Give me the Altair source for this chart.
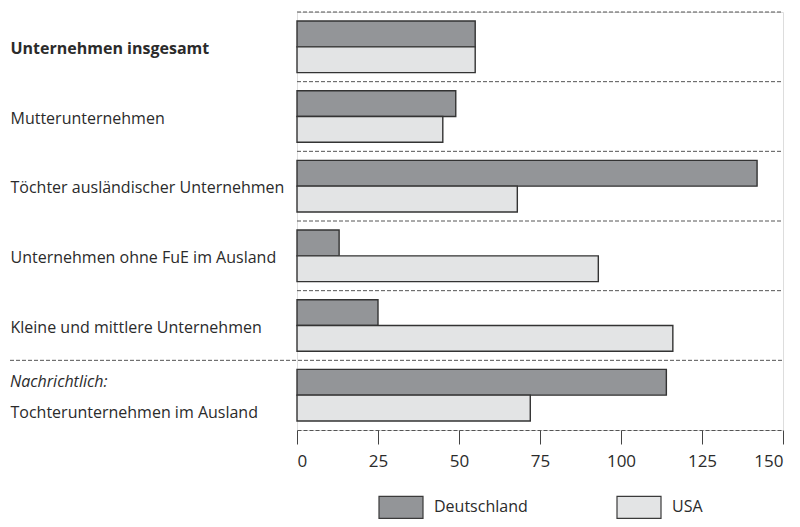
import altair as alt
import pandas as pd

categories = [
    "Unternehmen insgesamt",
    "Mutterunternehmen",
    "Töchter ausländischer Unternehmen",
    "Unternehmen ohne FuE im Ausland",
    "Kleine und mittlere Unternehmen",
    "Tochterunternehmen im Ausland",
]
series = ["Deutschland", "USA"]
deutschland = [55, 49, 142, 13, 25, 114]
usa = [55, 45, 68, 93, 116, 72]
x_ticks = [0, 25, 50, 75, 100, 125, 150]
note_label = "Nachrichtlich:"
note_category = "Tochterunternehmen im Ausland"
bold_category = "Unternehmen insgesamt"
full_rule_category = "Tochterunternehmen im Ausland"

rows = []
for c, d, u in zip(categories, deutschland, usa):
    rows.append({"cat": c, "series": "Deutschland", "value": d})
    rows.append({"cat": c, "series": "USA", "value": u})
df = pd.DataFrame(rows)
rules_df = pd.DataFrame({"cat": categories})
note_df = pd.DataFrame({"cat": [note_category], "label": [note_label]})

FONT = "Open Sans"
W, H = 486, 418
TEXT = "#2b2b2b"

y_scale = alt.Scale(domain=categories, paddingInner=0, paddingOuter=0)

y_axis = alt.Axis(
    domain=False,
    ticks=False,
    tickSize=0,
    labelAlign="left",
    labelBaseline="middle",
    labelPadding=287,
    labelFont=FONT,
    labelFontSize=16,
    labelColor=TEXT,
    labelLimit=400,
    labelFontWeight={
        "condition": {"test": f"datum.value === '{bold_category}'", "value": "bold"},
        "value": "normal",
    },
    labelOffset={
        "condition": {"test": f"datum.value === '{note_category}'", "value": 18},
        "value": 2,
    },
)

bars = alt.Chart(df).mark_bar(stroke="#333333", strokeWidth=1.4).encode(
    y=alt.Y("cat:N", scale=y_scale, title=None, axis=y_axis),
    yOffset=alt.YOffset(
        "series:N",
        sort=series,
        scale=alt.Scale(domain=series, paddingInner=0, paddingOuter=0.35),
    ),
    x=alt.X(
        "value:Q",
        scale=alt.Scale(domain=[0, 150], nice=False),
        title=None,
        axis=alt.Axis(
            values=x_ticks,
            grid=False,
            domainDash=[4, 2],
            domainColor="#555555",
            domainWidth=1,
            tickColor="#444444",
            tickSize=14,
            tickWidth=1,
            labelPadding=9,
            labelFont=FONT,
            labelFontSize=17,
            labelColor=TEXT,
        ),
    ),
    color=alt.Color(
        "series:N",
        scale=alt.Scale(domain=series, range=["#939598", "#e3e4e5"]),
        legend=alt.Legend(
            title=None,
            orient="none",
            legendX=81,
            legendY=472,
            direction="horizontal",
            symbolType="M-1,-0.5L1,-0.5L1,0.5L-1,0.5Z",
            symbolSize=1936,
            symbolStrokeColor="#3a3a3a",
            symbolStrokeWidth=1.2,
            symbolOpacity=1,
            labelFont=FONT,
            labelFontSize=16,
            labelColor=TEXT,
            labelOffset=10,
            columnPadding=86,
            padding=0,
        ),
    ),
)

rules = alt.Chart(rules_df).transform_filter(
    f"datum.cat !== '{full_rule_category}'"
).mark_rule(color="#555555", strokeDash=[4, 2], strokeWidth=1).encode(
    y=alt.Y("cat:N", bandPosition=0, scale=y_scale, title=None, axis=y_axis),
    x=alt.value(0),
    x2=alt.value(W),
)

full_rule = alt.Chart(rules_df).transform_filter(
    f"datum.cat === '{full_rule_category}'"
).mark_rule(color="#555555", strokeDash=[4, 2], strokeWidth=1).encode(
    y=alt.Y("cat:N", bandPosition=0, scale=y_scale, title=None, axis=y_axis),
    x=alt.value(-287),
    x2=alt.value(W),
)

note = alt.Chart(note_df).mark_text(
    align="left", baseline="middle", font=FONT, fontSize=16,
    fontStyle="italic", color=TEXT, dy=-13,
).encode(
    y=alt.Y("cat:N", scale=y_scale, title=None, axis=y_axis),
    x=alt.value(-287),
    text="label:N",
)

chart = alt.layer(bars, rules, full_rule, note).properties(
    width=W,
    height=H,
    autosize=alt.AutoSizeParams(type="none"),
    padding={"left": 289, "top": 4, "right": 9, "bottom": 89},
).configure_view(stroke=None).configure(background="white")

chart.save("out.html", embed_options={"renderer": "svg", "actions": False})
